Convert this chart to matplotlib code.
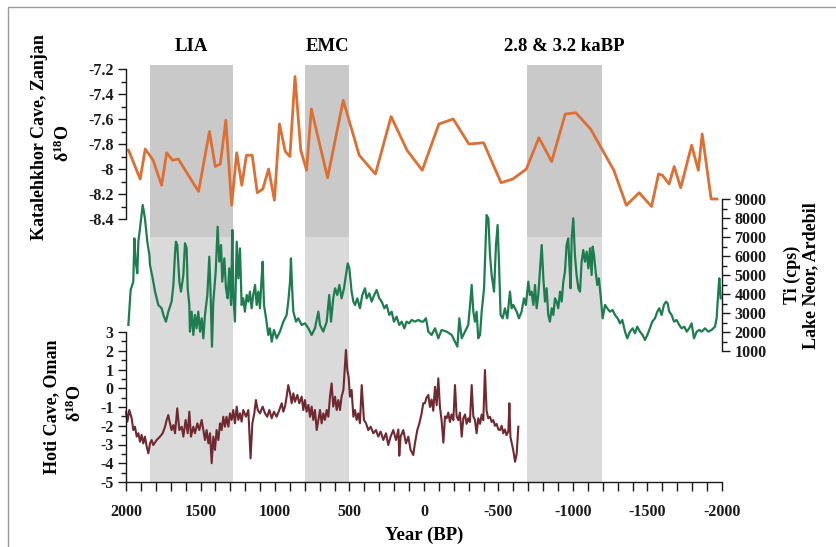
import matplotlib
matplotlib.use("Agg")
import matplotlib.pyplot as plt
from matplotlib.patches import Rectangle
from matplotlib.ticker import MultipleLocator, FuncFormatter

# ---- data ----
band_names = ["LIA", "EMC", "2.8 & 3.2 kaBP"]
band_start = [1840, 800, -690]
band_end = [1280, 500, -1195]

# Katalehkhor Cave, Zanjan d18O
kat_year = [1983, 1905, 1871, 1818, 1761, 1727, 1688, 1649, 1597, 1513, 1440, 1401,
            1367, 1330, 1291, 1257, 1223, 1192, 1153, 1119, 1082, 1043, 1004, 970,
            931, 900, 866, 827, 788, 756, 647, 542, 435, 326, 221, 114, 12, -100,
            -196, -301, -400, -517, -596, -687, -771, -857, -948, -1019, -1118,
            -1274, -1358, -1444, -1527, -1574, -1600, -1645, -1679, -1723, -1796,
            -1841, -1867, -1927, -1966]
kat_d18o = [-7.85, -8.08, -7.84, -7.93, -8.13, -7.87, -7.93, -7.92, -8.02, -8.18, -7.70,
            -7.98, -7.96, -7.61, -8.29, -7.87, -8.13, -7.89, -7.89, -8.19, -8.16, -8.00,
            -8.25, -7.64, -7.86, -7.90, -7.26, -7.85, -8.01, -7.52, -8.07, -7.45, -7.89,
            -8.04, -7.58, -7.85, -8.01, -7.64, -7.60, -7.80, -7.79, -8.11, -8.08, -8.00,
            -7.75, -7.94, -7.56, -7.55, -7.68, -8.01, -8.29, -8.19, -8.30, -8.04, -8.05,
            -8.12, -7.98, -8.15, -7.81, -8.01, -7.72, -8.24, -8.24]

# Lake Neor, Ardebil Ti (cps)
neor_year = [1984, 1969, 1951, 1944, 1935, 1924, 1917, 1906, 1888, 1873,
             1857, 1843, 1839, 1821, 1805, 1783, 1761, 1749, 1732, 1716,
             1694, 1682, 1671, 1665, 1656, 1642, 1631, 1615, 1604, 1593,
             1586, 1575, 1571, 1559, 1548, 1537, 1526, 1515, 1503, 1492,
             1481, 1470, 1454, 1441, 1432, 1423, 1414, 1398, 1385, 1374,
             1362, 1354, 1340, 1329, 1318, 1307, 1295, 1286, 1280, 1269,
             1257, 1246, 1235, 1224, 1213, 1202, 1190, 1179, 1168, 1157,
             1146, 1134, 1123, 1112, 1101, 1090, 1083, 1074, 1060, 1045,
             1034, 1022, 1007, 989, 967, 944, 922, 911, 899, 893,
             884, 877, 859, 844, 821, 799, 776, 754, 732, 709,
             698, 676, 653, 636, 624, 609, 597, 582, 568, 553,
             537, 524, 512, 501, 486, 474, 463, 448, 430, 414,
             396, 385, 367, 351, 334, 318, 300, 284, 266, 251,
             233, 217, 202, 184, 166, 150, 132, 117, 99, 83,
             61, 38, 16,
             5, -13, -29, -51, -74, -96, -118, -152, -186, -208,
             -224, -237, -253, -275, -297, -309, -320, -331, -342, -353,
             -364, -376, -387, -403, -414, -420, -432, -443, -454, -470,
             -483, -494, -503, -514, -528, -543, -559, -577, -588, -599,
             -622, -637, -655, -671, -684, -700, -711, -722, -734, -745,
             -756, -767, -778, -790, -801, -812, -823, -834, -845, -857,
             -868, -879, -890, -901, -913, -924, -935, -946, -957, -968,
             -975, -984, -991, -1002, -1013, -1024, -1036, -1047, -1058, -1069,
             -1080, -1092, -1103, -1114, -1125, -1132, -1141, -1152, -1163, -1174,
             -1185, -1199, -1215, -1230, -1248, -1266, -1282, -1300, -1315, -1331,
             -1349, -1364, -1382, -1400, -1416, -1431, -1449, -1467, -1483, -1499,
             -1516, -1532, -1550, -1566, -1579, -1595, -1610, -1624, -1635, -1646,
             -1662, -1678, -1695, -1713, -1729, -1747, -1763, -1780, -1796, -1812,
             -1830, -1848, -1863, -1886, -1908, -1930, -1953, -1964, -1975, -1982,
             -1991]
neor_ti = [2370, 4210, 4650, 6930, 5700, 5090, 6755, 7456, 8684, 7983,
           6755, 6053, 5527, 4826, 4124, 3422, 3247, 2896, 2545, 3071,
           3598, 4475, 6141, 6755, 6579, 4650, 4124, 5001, 6667, 6404,
           4300, 3422, 2019, 3071, 1844, 2896, 2194, 3071, 2019, 2720,
           1668, 2896, 3948, 5966, 3948, 1229, 3598, 5176, 7544, 5702,
           6579, 4650, 5878, 4300, 3773, 5352, 3422, 7369, 3948, 2545,
           6755, 4826, 6404, 3422, 3773, 3071, 3948, 3598, 4124, 3247,
           3948, 4475, 3422, 4124, 3247, 4826, 5702, 3422, 2720, 1844,
           2194, 1493, 2107, 1668, 2019, 2545, 2896, 3598, 4650, 5878,
           4124, 3071, 2545, 2720, 2370, 2457, 2194, 1844, 2194, 3071,
           2370, 2019, 2545, 3948, 2545, 3773, 4300, 3948, 4475, 3773,
           4300, 5001, 5615, 5352, 4124, 3598, 3422, 3773, 3247, 3948,
           4300, 3773, 4036, 3598, 3948, 4212, 3773, 3598, 3247, 3422,
           2896, 3071, 2545, 2808, 2370, 2545, 2194, 2545, 2457, 2633,
           2545, 2633, 2545,
           2545, 2720, 2019, 1844, 2194, 1668, 2107, 2019, 1844, 1493,
           1229, 2720, 1668, 2019, 2370, 3422, 4475, 3071, 2545, 3071,
           1668, 1844, 3071, 4300, 6755, 8158, 7983, 6053, 5001, 4124,
           6579, 7632, 5702, 2896, 2720, 3247, 2720, 4124, 3247, 3422,
           3071, 2720, 3071, 3773, 3422, 4650, 3948, 4124, 3422, 4475,
           3247, 3948, 5176, 6579, 4826, 3598, 4300, 2896, 2545, 3247,
           2896, 3773, 3598, 3247, 4124, 3598, 4650, 5176, 6579, 6930,
           5702, 4300, 6930, 7983, 6053, 5001, 4300, 4124, 5702, 6316,
           5702, 6228, 5352, 6404, 5001, 6492, 6053, 5176, 4475, 4826,
           3948, 2720, 3422, 3247, 3071, 3159, 2896, 2720, 2457, 2633,
           2019, 1668, 2019, 2194, 1931, 2282, 2019, 1844, 1580, 1844,
           2194, 2545, 2720, 3071, 3247, 2896, 3422, 3598, 3510, 3071,
           2896, 2545, 2633, 2370, 2194, 2282, 2019, 2194, 2457, 1668,
           2019, 2107, 2019, 2194, 2019, 2107, 2282, 2720, 4124, 4826,
           3773]

# Hoti Cave, Oman d18O
hoti_year = [2000, 1991, 1978, 1962, 1951, 1940, 1928, 1917, 1906, 1895,
             1884, 1873, 1861, 1850, 1839, 1828, 1817, 1794, 1772, 1754,
             1738, 1727, 1716, 1705, 1694, 1682, 1671, 1656, 1642, 1626,
             1615, 1600, 1586, 1575, 1564, 1548, 1537, 1521, 1508, 1492,
             1481, 1470, 1459, 1447, 1436, 1425, 1414, 1403, 1392, 1380,
             1369, 1358, 1347, 1336, 1325, 1313, 1302, 1291, 1280, 1269,
             1257, 1246, 1235, 1224, 1213, 1195, 1179, 1164, 1152, 1139,
             1128, 1116, 1101, 1083, 1067, 1052, 1038, 1022, 1007, 989,
             971, 955, 944, 933, 922, 911, 899, 888, 877, 866,
             850, 837, 821, 810, 799, 788, 776, 765, 754, 743,
             732, 720, 709, 698, 687, 676, 665, 653, 642, 631,
             620, 609, 597, 586, 575, 564, 553, 541, 530, 524,
             515, 506, 497, 486, 474, 463, 452, 441, 430, 418,
             403, 389, 374, 358, 340, 322, 307, 291, 273, 255,
             240, 224, 206, 188, 172, 166, 157, 139, 121, 105,
             90, 72, 61, 45, 31, 16, 5,
             -6, -17, -29, -40, -51, -62, -74, -85, -96, -107,
             -118, -130, -141, -152, -163, -174, -185, -197, -208, -219,
             -230, -241, -253, -264, -275, -286, -297, -308, -320, -331,
             -342, -353, -364, -376, -387, -398, -409, -420, -431, -443,
             -454, -465, -476, -487, -499, -510, -521, -532, -543, -554,
             -566, -573, -580, -588, -599, -611, -622, -633]
hoti_d18o = [-1.25, -1.78, -1.16, -1.60, -2.23, -2.05, -2.58, -2.40, -2.85, -2.49,
             -2.94, -2.58, -3.12, -3.47, -2.94, -2.76, -3.03, -2.76, -2.58, -2.40,
             -2.05, -1.69, -1.43, -1.87, -2.23, -1.96, -2.40, -1.07, -2.23, -2.05,
             -2.58, -1.69, -2.40, -1.25, -2.58, -2.05, -2.40, -1.87, -2.23, -1.69,
             -2.23, -2.76, -2.23, -2.94, -2.40, -4.00, -2.58, -3.29, -2.23, -2.76,
             -1.87, -2.23, -1.52, -2.05, -1.52, -2.05, -1.34, -1.69, -1.16, -1.87,
             -0.98, -1.69, -1.34, -1.78, -1.16, -1.52, -1.16, -3.74, -1.87, -1.34,
             -0.63, -1.16, -1.34, -0.98, -1.34, -1.52, -1.16, -1.60, -1.25, -1.52,
             -1.16, -0.80, -1.25, -0.98, -0.45, 0.17, -0.27, -0.80, -0.27, -0.72,
             -0.36, -0.80, -0.45, -1.16, -0.63, -1.25, -0.89, -1.52, -0.98, -1.69,
             -1.16, -2.23, -1.69, -1.16, -1.87, -1.34, -1.69, -1.16, -1.52, -0.45,
             0.26, -0.98, -0.45, -1.16, -0.63, -1.16, -0.45, -0.09, 1.33, 2.04,
             0.97, 0.62, -0.45, -0.09, -1.52, -1.16, -1.69, -1.34, -1.87, 0.17,
             -1.69, -1.87, -2.23, -2.05, -2.40, -2.23, -2.58, -2.31, -2.76, -2.40,
             -3.03, -2.58, -2.23, -2.76, -2.20, -3.60, -2.58, -2.23, -2.94, -2.58,
             -3.29, -3.56, -2.94, -2.23, -1.87, -1.34, -0.80,
             -0.80, -0.50, -0.36, -1.00, -0.60, -1.20, 0.08, -0.90, 0.53, -1.00,
             -1.70, -2.90, -1.50, -1.60, -1.30, -1.80, -1.40, -1.70, 0.17, -1.50,
             -1.70, -1.30, -2.58, -1.60, -1.40, -1.90, -1.60, -1.80, 0.17, -1.50,
             -1.70, -2.40, -1.60, -1.90, -1.40, -1.70, 0.97, -1.20, -1.60, -1.52,
             -1.80, -1.70, -2.00, -1.90, -2.20, -2.23, -2.00, -2.40, -2.20, -2.50,
             -2.30, -0.80, -2.60, -2.90, -3.30, -3.92, -3.50, -2.05]

W, H = 836, 547


def box(x0, y0, x1, y1):
    # pixel box of the reference -> figure fraction
    return [x0 / W, 1 - y1 / H, (x1 - x0) / W, (y1 - y0) / H]


plt.rcParams["font.family"] = "Liberation Serif"
plt.rcParams["font.weight"] = "bold"
plt.rcParams["axes.unicode_minus"] = False
plt.rcParams["mathtext.fontset"] = "custom"
plt.rcParams["mathtext.rm"] = "Liberation Serif:bold"
plt.rcParams["mathtext.it"] = "Liberation Serif:bold"
plt.rcParams["mathtext.bf"] = "Liberation Serif:bold"

fig = plt.figure(figsize=(W / 100, H / 100), dpi=100)
fmt = FuncFormatter(lambda v, p: "%g" % round(v, 3))
ink = "#1a1a1a"

# shaded periods behind everything
ax_bg = fig.add_axes(box(126, 65, 722, 482))
ax_bg.set_xlim(2000, -2000)
ax_bg.set_ylim(0, 1)
ax_bg.axis("off")
for s, e, name in zip(band_start, band_end, band_names):
    ax_bg.axvspan(s, e, ymin=0.588, ymax=1, color="#c9c9c9", lw=0)
    ax_bg.axvspan(s, e, ymin=0, ymax=0.588, color="#dadada", lw=0)
    ax_bg.text((s + e) / 2, 1.025, name, ha="center", va="bottom",
               fontsize=13.5, fontweight="bold", transform=ax_bg.get_xaxis_transform())

# top: Katalehkhor
ax1 = fig.add_axes(box(126, 69, 722, 219))
ax1.patch.set_alpha(0)
ax1.plot(kat_year, kat_d18o, color="#dd6f33", lw=2.0, clip_on=False)
ax1.set_xlim(2000, -2000)
ax1.set_ylim(-8.4, -7.2)
for sp in ["top", "right", "bottom"]:
    ax1.spines[sp].set_visible(False)
ax1.spines["left"].set_color(ink)
ax1.set_xticks([])
ax1.yaxis.set_major_locator(MultipleLocator(0.2))
ax1.yaxis.set_minor_locator(MultipleLocator(0.1))
ax1.yaxis.set_major_formatter(fmt)

# middle: Lake Neor
ax2 = fig.add_axes(box(126, 199, 722, 351))
ax2.patch.set_alpha(0)
ax2.plot(neor_year, neor_ti, color="#1e7d50", lw=1.6, clip_on=False)
ax2.set_xlim(2000, -2000)
ax2.set_ylim(1000, 9000)
for sp in ["top", "left", "bottom"]:
    ax2.spines[sp].set_visible(False)
ax2.spines["right"].set_color(ink)
ax2.set_xticks([])
ax2.yaxis.tick_right()
ax2.yaxis.set_major_locator(MultipleLocator(1000))
ax2.yaxis.set_minor_locator(MultipleLocator(500))

# bottom: Hoti Cave
ax3 = fig.add_axes(box(126, 332, 722, 482))
ax3.patch.set_alpha(0)
ax3.plot(hoti_year, hoti_d18o, color="#6e2a30", lw=1.5, clip_on=False)
ax3.set_xlim(2000, -2000)
ax3.set_ylim(-5, 3)
for sp in ["top", "right"]:
    ax3.spines[sp].set_visible(False)
ax3.spines["left"].set_color(ink)
ax3.spines["bottom"].set_color(ink)
ax3.yaxis.set_major_locator(MultipleLocator(1))
ax3.yaxis.set_minor_locator(MultipleLocator(0.5))
ax3.xaxis.set_major_locator(MultipleLocator(500))
ax3.xaxis.set_minor_locator(MultipleLocator(100))
ax3.xaxis.set_major_formatter(fmt)
ax3.set_xlabel("Year (BP)", fontsize=13.5, fontweight="bold", labelpad=5)

for ax in (ax1, ax2, ax3):
    for sp in ax.spines.values():
        sp.set_linewidth(1.0)
    ax.tick_params(axis="both", which="major", direction="out", length=6, width=1,
                   labelsize=11.5, colors=ink, pad=3)
    ax.tick_params(axis="both", which="minor", direction="out", length=3.5, width=1,
                   colors=ink)
ax3.tick_params(axis="x", which="both", length=6.5, pad=9)

# axis titles
fig.text(40 / W, 1 - 137 / H, "Katalehkhor Cave, Zanjan", rotation=90,
         ha="center", va="center", fontsize=13, fontweight="bold")
fig.text(63 / W, 1 - 143 / H, "δ$^{18}$O", rotation=90,
         ha="center", va="center", fontsize=13, fontweight="bold")
fig.text(52 / W, 1 - 407 / H, "Hoti Cave, Oman", rotation=90,
         ha="center", va="center", fontsize=13, fontweight="bold")
fig.text(75 / W, 1 - 403 / H, "δ$^{18}$O", rotation=90,
         ha="center", va="center", fontsize=13, fontweight="bold")
fig.text(792 / W, 1 - 275 / H, "Ti (cps)", rotation=90,
         ha="center", va="center", fontsize=13, fontweight="bold")
fig.text(811 / W, 1 - 276 / H, "Lake Neor, Ardebil", rotation=90,
         ha="center", va="center", fontsize=13, fontweight="bold")

# thin frame of the original figure
fig.patches.append(Rectangle((8 / W, -0.1), 1.2, 1.1 - 7 / H, transform=fig.transFigure,
                             fill=False, edgecolor="#9a9a9a", lw=1.0))

fig.savefig("out.png", dpi=100)
